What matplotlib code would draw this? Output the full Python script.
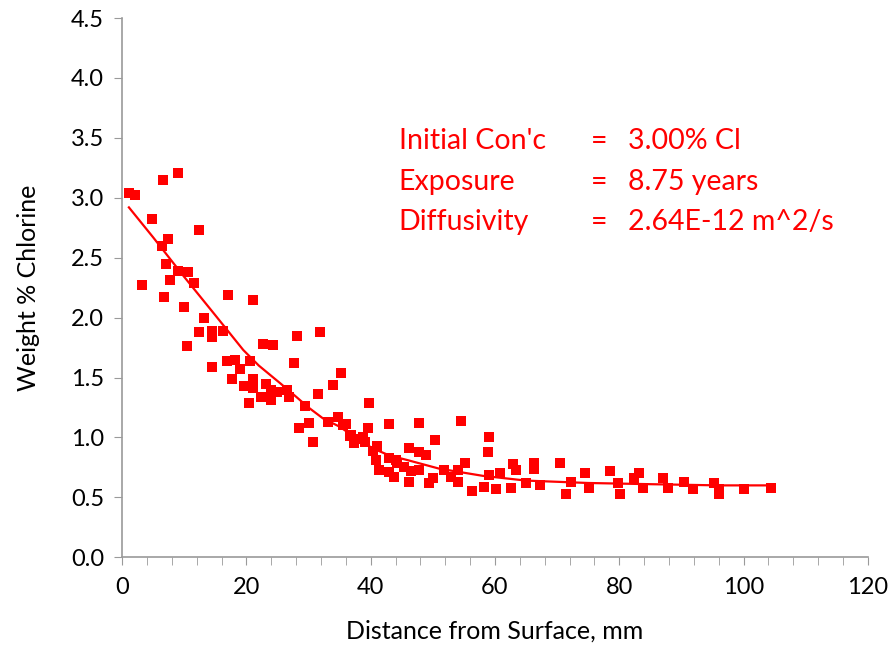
import matplotlib.pyplot as plt
from matplotlib.ticker import MultipleLocator

# measured chloride profile (distance mm, weight % Cl)
dist = [1.1, 2.1, 6.6, 9.0, 4.8, 12.3, 7.4, 6.5, 7.1, 9.0, 10.6, 11.5, 7.7, 3.2, 6.8, 9.9,
        17.1, 21.1, 13.2, 12.4, 14.5, 16.3, 14.4, 10.5, 22.6, 24.3, 28.1, 31.8, 14.5, 16.9,
        18.2, 20.6, 27.7, 18.9, 17.7, 21.0, 19.7, 23.1, 21.1, 22.3, 23.9, 25.0, 26.6, 26.8,
        24.0, 20.5, 35.3, 34.0, 31.5, 39.8, 29.4, 28.5, 30.0, 30.8, 33.2, 34.7, 35.6, 36.8,
        37.3, 38.7, 39.5, 40.3, 40.8, 41.3, 36.0, 42.9, 47.7, 54.5, 41.1, 42.9, 44.0, 46.1,
        47.7, 48.9, 50.3, 42.9, 43.7, 46.5, 47.7, 46.1, 49.4, 50.0, 51.8, 52.9, 54.0, 54.0,
        55.2, 56.3, 58.2, 59.0, 58.9, 59.0, 60.2, 60.8, 62.6, 62.9, 63.4, 65.0, 66.3, 66.3,
        67.3, 70.5, 71.5, 72.3, 74.5, 75.2, 78.5, 79.8, 80.2, 82.4, 83.2, 83.9, 87.1, 87.9,
        90.5, 91.8, 95.2, 96.0, 96.1, 100.0, 104.4, 39.1, 44.3, 45.3, 36.6, 38.3]
chlorine = [3.04, 3.02, 3.15, 3.21, 2.82, 2.73, 2.66, 2.60, 2.45, 2.39, 2.38, 2.29, 2.31, 2.27,
            2.17, 2.09, 2.19, 2.15, 2.00, 1.88, 1.89, 1.89, 1.84, 1.76, 1.78, 1.77, 1.85, 1.88,
            1.59, 1.64, 1.65, 1.64, 1.62, 1.57, 1.49, 1.49, 1.43, 1.45, 1.41, 1.34, 1.40, 1.38,
            1.40, 1.34, 1.31, 1.29, 1.54, 1.44, 1.36, 1.29, 1.26, 1.08, 1.12, 0.96, 1.13, 1.17,
            1.10, 1.02, 0.95, 1.00, 1.08, 0.89, 0.81, 0.73, 1.11, 1.11, 1.12, 1.14, 0.93, 0.83,
            0.81, 0.91, 0.88, 0.85, 0.98, 0.71, 0.67, 0.72, 0.73, 0.63, 0.62, 0.66, 0.73, 0.67,
            0.63, 0.73, 0.79, 0.55, 0.59, 1.00, 0.88, 0.69, 0.57, 0.70, 0.58, 0.78, 0.73, 0.62,
            0.79, 0.74, 0.60, 0.79, 0.53, 0.63, 0.70, 0.58, 0.72, 0.62, 0.53, 0.66, 0.70, 0.58,
            0.66, 0.58, 0.63, 0.57, 0.62, 0.53, 0.57, 0.57, 0.58, 0.96, 0.79, 0.75, 1.01, 0.99]

# fitted diffusion curve
fit_x = [1.1, 5, 10, 15, 19.5, 22, 25.5, 28, 30, 32.3, 35, 37.8, 40.3, 43, 46, 51, 58, 65,
         75, 85, 96, 104.5]
fit_y = [2.92, 2.67, 2.34, 2.02, 1.73, 1.60, 1.45, 1.34, 1.25, 1.16, 1.09, 0.99, 0.91, 0.85,
         0.81, 0.74, 0.68, 0.64, 0.62, 0.61, 0.60, 0.60]

labels = ["Initial Con'c", "Exposure", "Diffusivity"]
values = ["3.00% Cl", "8.75 years", "2.64E-12 m^2/s"]

plt.rcParams['font.family'] = ['Lato', 'DejaVu Sans']

fig = plt.figure(figsize=(8.91, 6.45), dpi=100)
ax = fig.add_axes([0.137, 0.136, 0.837, 0.836])

ax.plot(fit_x, fit_y, color='#ff0000', linewidth=1.6, zorder=2)
ax.scatter(dist, chlorine, marker='s', s=55, color='#ff0000', linewidths=0, zorder=3)

ax.set_xlim(0, 120)
ax.set_ylim(0, 4.5)
ax.xaxis.set_major_locator(MultipleLocator(20))
ax.xaxis.set_minor_locator(MultipleLocator(4))
ax.yaxis.set_major_locator(MultipleLocator(0.5))
ax.yaxis.set_major_formatter(plt.FormatStrFormatter('%.1f'))

for s in ['top', 'right']:
    ax.spines[s].set_visible(False)
for s in ['left', 'bottom']:
    ax.spines[s].set_color('#9a9a9a')
    ax.spines[s].set_linewidth(1.2)
ax.tick_params(which='both', color='#9a9a9a', direction='out', labelsize=17, colors='#9a9a9a',
               labelcolor='black')
ax.tick_params(axis='y', length=6, pad=7)
ax.tick_params(axis='x', which='both', length=6, pad=8)

ax.set_xlabel("Distance from Surface, mm", fontsize=18, labelpad=16)
ax.set_ylabel("Weight % Chlorine", fontsize=18, labelpad=22)

for i in range(3):
    y = 3.47 - i * 0.335
    ax.text(44.5, y, labels[i], color='#ff0000', fontsize=20.5, va='center')
    ax.text(75.5, y, "=", color='#ff0000', fontsize=20.5, va='center')
    ax.text(81.4, y, values[i], color='#ff0000', fontsize=20.5, va='center')

plt.savefig("out.png", dpi=100)
